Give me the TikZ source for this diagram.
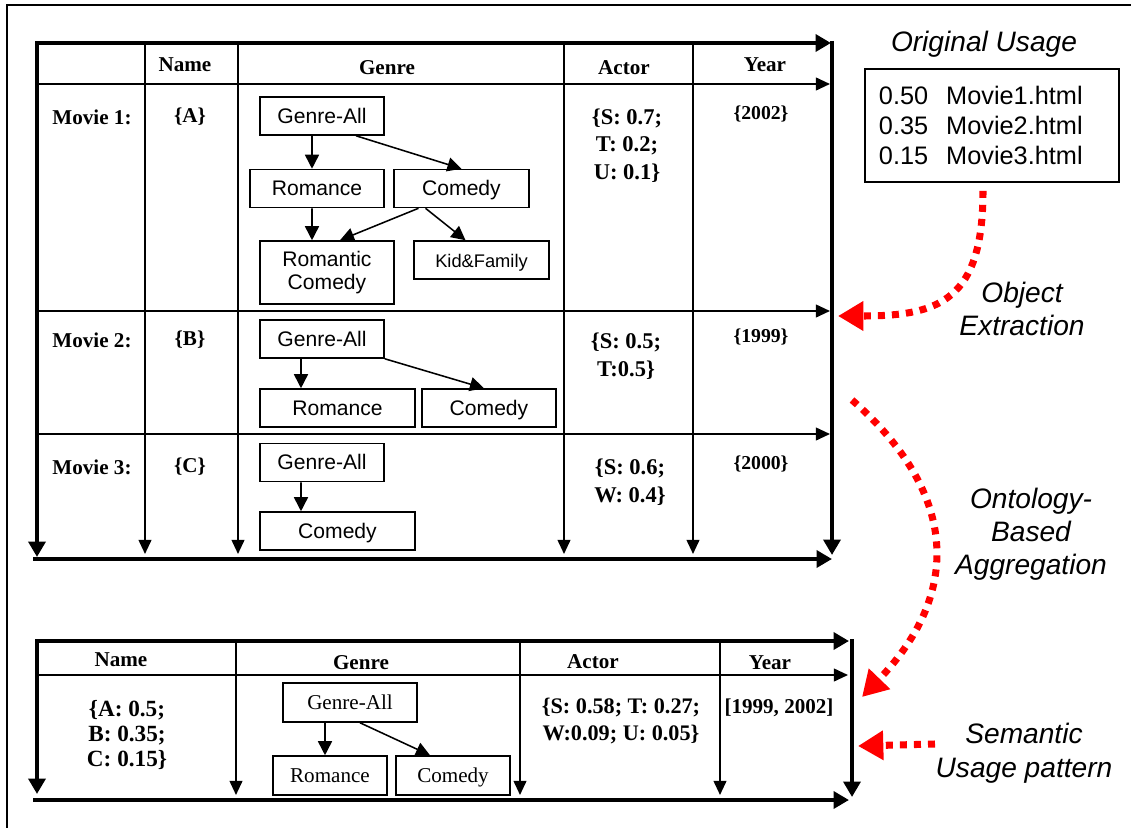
\documentclass[tikz,border=0pt]{standalone}
\usepackage{fontspec}
\setmainfont{Liberation Serif}
\newfontfamily\arialfont{Liberation Sans}
\usetikzlibrary{arrows.meta,positioning}

\begin{document}
\begin{tikzpicture}[
    x=0.025cm, y=-0.025cm,
    frame/.style={line width=1.2pt},
    thickarr/.style={line width=3.3pt, -{Triangle[length=11pt, width=12pt]}},
    thinarr/.style={line width=1.4pt, -{Triangle[length=10pt, width=9pt]}},
    hdr/.style={font=\fontsize{15}{18}\selectfont\bfseries, inner sep=0pt},
    cell/.style={font=\fontsize{16}{20}\selectfont\bfseries, align=center, inner sep=0pt},
    boxbase/.style={draw, line width=1.1pt, inner sep=0pt, minimum height=0.95cm, font=\arialfont\fontsize{15}{17}\selectfont, align=center},
    gbox/.style={boxbase, text height=11pt, text depth=0.6pt},
    sbox/.style={gbox, font=\fontsize{15}{17}\selectfont},
    garr/.style={line width=1.1pt, -{Triangle[length=10pt, width=10pt]}},
    lbl/.style={font=\arialfont\itshape\fontsize{20}{24}\selectfont, align=center, inner sep=0pt},
    redarr/.style={red, line width=5pt, dash pattern=on 5pt off 5pt, -{Triangle[length=18pt, width=20pt]}}
]
\useasboundingbox (0,0) rectangle (1131,828);

% outer frame
\draw[frame] (7,850) -- (7,5) -- (1150,5);

% upper table
\draw[thickarr] (35,43) -- (831,43);
\draw[thickarr] (37,43) -- (37,557);
\draw[thickarr] (832,41) -- (832,555);
\draw[thickarr] (33,559) -- (832,559);
\foreach \y in {84,311,434} \draw[thinarr] (37,\y) -- (830,\y);
\foreach \x in {145,238,564,693} \draw[thinarr] (\x,43) -- (\x,554);

\node[hdr] (hname) at (185,65) {Name};
\node[hdr] (hgenre) at (387,68) {Genre};
\node[hdr] (hactor) at (624,68) {Actor};
\node[hdr] (hyear) at (765,65) {Year};

\foreach \i/\y/\n/\yr in {1/117/A/2002, 2/340/B/1999, 3/467/C/2000} {
  \node[hdr] (mov\i) at (92,\y) {Movie \i:};
  \node[hdr] (nm\i) at (190,\y) {\{\n\}};
  \node[hdr, font=\fontsize{14}{17}\selectfont\bfseries] (yr\i) at (761,\y-3) {\{\yr\}};
}

\node[cell, font=\fontsize{16}{19.5}\selectfont\bfseries] (act1) at (627,145.5) {\{S: 0.7;\\T: 0.2;\\U: 0.1\}};
\node[cell] (act2) at (626,356) {\{S: 0.5;\\T:0.5\}};
\node[cell] (act3) at (630,482) {\{S: 0.6;\\W: 0.4\}};

% genre tree, movie 1
\node[gbox, minimum width=3.1cm] (ga1) at (322,116) {Genre-All};
\node[gbox, minimum width=3.35cm] (rom1) at (317,188.5) {Romance};
\node[gbox, minimum width=3.375cm] (com1) at (461.5,188.5) {Comedy};
\node[boxbase, minimum width=3.35cm, minimum height=1.575cm] (rc1) at (327,272.5) {Romantic\\Comedy};
\node[gbox, minimum width=3.375cm, font=\arialfont\fontsize{13}{16}\selectfont] (kf1) at (481.5,260) {Kid\&Family};

\draw[garr] ([xshift=-0.25cm]ga1.south) -- ([xshift=-0.125cm]rom1.north);
\draw[garr] ([xshift=0.85cm]ga1.south) -- (com1.north);
\draw[garr] ([xshift=-0.125cm]rom1.south) -- ([xshift=-0.375cm]rc1.north);
\draw[garr] ([xshift=-1.075cm]com1.south) -- ([xshift=0.325cm]rc1.north);
\draw[garr] ([xshift=-0.9cm]com1.south) -- ([xshift=-0.4cm]kf1.north);

% genre tree, movie 2
\node[gbox, minimum width=3.1cm] (ga2) at (322,339) {Genre-All};
\node[gbox, minimum width=3.875cm] (rom2) at (337.5,408) {Romance};
\node[gbox, minimum width=3.35cm] (com2) at (489,408) {Comedy};
\draw[garr] ([xshift=-0.525cm]ga2.south) -- ([xshift=-0.9125cm]rom2.north);
\draw[garr] (ga2.south east) -- ([xshift=-0.125cm]com2.north);

% genre tree, movie 3
\node[gbox, minimum width=3.1cm] (ga3) at (322,462.5) {Genre-All};
\node[gbox, minimum width=3.875cm] (com3) at (337.5,531) {Comedy};
\draw[garr] ([xshift=-0.525cm]ga3.south) -- ([xshift=-0.9125cm]com3.north);

% lower table
\draw[thickarr] (35,641) -- (849,641);
\draw[thickarr] (37,641) -- (37,794);
\draw[thickarr] (852,639) -- (852,797);
\draw[thickarr] (33,800) -- (849,800);
\draw[thinarr] (37,675) -- (848,675);
\foreach \x in {236,520,720} \draw[thinarr] (\x,641) -- (\x,795);

\node[hdr] (pname) at (121,660) {Name};
\node[hdr] (pgenre) at (361,663) {Genre};
\node[hdr] (pactor) at (593,662) {Actor};
\node[hdr] (pyear) at (770,663) {Year};

\node[cell, font=\fontsize{16.5}{18}\selectfont\bfseries] (pnm) at (127,735) {\{A: 0.5;\\B: 0.35;\\C: 0.15\}};
\node[cell, font=\fontsize{15.8}{19}\selectfont\bfseries] (pact) at (621,721) {\{S: 0.58; T: 0.27;\\W:0.09; U: 0.05\}};
\node[hdr] (pyr) at (779,708) {[1999, 2002]};

\node[sbox, minimum width=3.35cm, minimum height=0.975cm] (ga4) at (350,702.5) {Genre-All};
\node[sbox, minimum width=2.85cm, minimum height=0.975cm] (rom4) at (330,775.5) {Romance};
\node[sbox, minimum width=2.85cm, minimum height=0.975cm] (com4) at (453,775.5) {Comedy};
\draw[garr] ([xshift=-0.625cm]ga4.south) -- ([xshift=-0.125cm]rom4.north);
\draw[garr] ([xshift=0.25cm]ga4.south) -- ([xshift=-0.575cm]com4.north);

% original usage
\node[lbl] (outitle) at (984,44) {Original Usage};
\node[draw, line width=1.1pt, inner xsep=0.35cm, text width=5.65cm, minimum height=2.825cm,
      font=\arialfont\fontsize{18}{21.3}\selectfont, align=left] (ou) at (992,125.5)
  {0.50\hspace{0.45cm}Movie1.html\\0.35\hspace{0.45cm}Movie2.html\\0.15\hspace{0.45cm}Movie3.html};

% process labels
\node[lbl] (oelbl) at (1022,309) {Object\\Extraction};
\node[lbl, font=\arialfont\itshape\fontsize{20}{23.5}\selectfont] (oblbl) at (1031,534) {Ontology-\\Based\\Aggregation};
\node[lbl] (sulbl) at (1024,753) {Semantic\\Usage pattern};

% red process arrows
\coordinate (oetip) at (838,316);
\coordinate (obstart) at (852,400);
\coordinate (obtip) at (862,697);
\coordinate (sustart) at (935,744);
\coordinate (sutip) at (858,746);
\draw[redarr] ([xshift=-0.225cm, yshift=-0.2cm]ou.south) .. controls (983,300) and (940,316) .. (oetip);
\draw[redarr] (obstart) .. controls (955,490) and (965,590) .. (obtip);
\draw[redarr] (sustart) -- (sutip);
\end{tikzpicture}
\end{document}
